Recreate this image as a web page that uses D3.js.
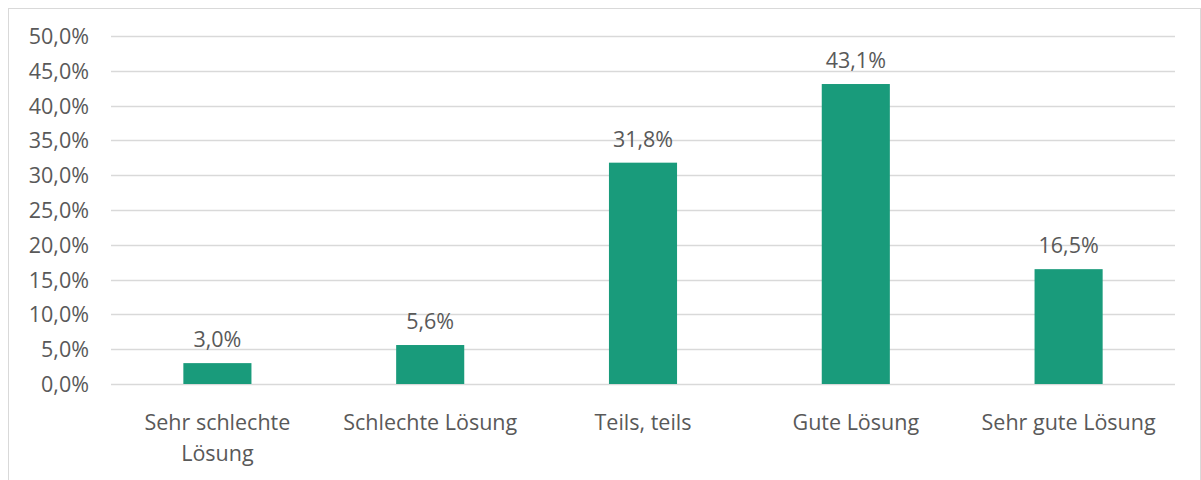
<!DOCTYPE html>
<html><head><meta charset="utf-8">
<script src="https://cdn.jsdelivr.net/npm/d3@7"></script>
<style>
html,body{margin:0;padding:0;background:#fff;}
svg text{font-family:"Open Sans","Noto Sans",sans-serif;fill:#595959;}
</style></head>
<body>
<svg id="chart" width="1201" height="480"></svg>
<script>
const categories = ["Sehr schlechte Lösung", "Schlechte Lösung", "Teils, teils", "Gute Lösung", "Sehr gute Lösung"];
const categoryLines = [["Sehr schlechte", "Lösung"], ["Schlechte Lösung"], ["Teils, teils"], ["Gute Lösung"], ["Sehr gute Lösung"]];
const values = [3.0, 5.6, 31.8, 43.1, 16.5];
const yTicks = [0, 5, 10, 15, 20, 25, 30, 35, 40, 45, 50];

const svg = d3.select("#chart");
const W = 1201, H = 480;
const margin = {left: 111, right: 26, top: 36, bottom: 96};
const FS = "21.5px";

// outer border
svg.append("rect").attr("x", 8.5).attr("y", 8.5).attr("width", W - 9).attr("height", H)
  .attr("fill", "none").attr("stroke", "#d9d9d9").attr("stroke-width", 1);

const x = d3.scaleBand().domain(categories).range([margin.left, W - margin.right]).paddingInner(0.68).paddingOuter(0.34);
const y = d3.scaleLinear().domain([0, 50]).range([384, 36]);

const fmt = v => d3.format(".1f")(v).replace(".", ",") + "%";

// gridlines
svg.append("g").selectAll("line").data(yTicks).join("line")
  .attr("x1", margin.left).attr("x2", W - margin.right)
  .attr("y1", d => Math.round(y(d)) + 0.5).attr("y2", d => Math.round(y(d)) + 0.5)
  .attr("stroke", "#d9d9d9").attr("stroke-width", 1.3);

// y axis labels
const yAxis = d3.axisLeft(y).tickValues(yTicks).tickFormat(fmt).tickSize(0).tickPadding(0);
const gy = svg.append("g").attr("transform", `translate(89,0)`).call(yAxis);
gy.select(".domain").remove();
gy.selectAll("text").attr("font-size", FS).style("font-family", null).attr("dy", "0.35em");

// bars
svg.append("g").selectAll("rect").data(values).join("rect")
  .attr("x", (d, i) => x(categories[i]))
  .attr("y", d => y(d))
  .attr("width", x.bandwidth())
  .attr("height", d => y(0) - y(d))
  .attr("fill", "#199b7b");

// value labels
svg.append("g").selectAll("text").data(values).join("text")
  .attr("x", (d, i) => x(categories[i]) + x.bandwidth() / 2)
  .attr("y", d => y(d) - 16)
  .attr("text-anchor", "middle").attr("font-size", FS)
  .text(d => fmt(d));

// category labels
const xAxis = d3.axisBottom(x).tickSize(0).tickFormat("");
const gx = svg.append("g").attr("transform", `translate(0,384)`).call(xAxis);
gx.select(".domain").remove();
gx.selectAll(".tick").each(function(d, i) {
  const t = d3.select(this).append("text").attr("text-anchor", "middle").attr("font-size", FS)
    .attr("fill", "#595959");
  categoryLines[i].forEach((ln, j) => {
    t.append("tspan").attr("x", 0).attr("y", 46 + j * 31).text(ln);
  });
});
</script>
</body></html>
